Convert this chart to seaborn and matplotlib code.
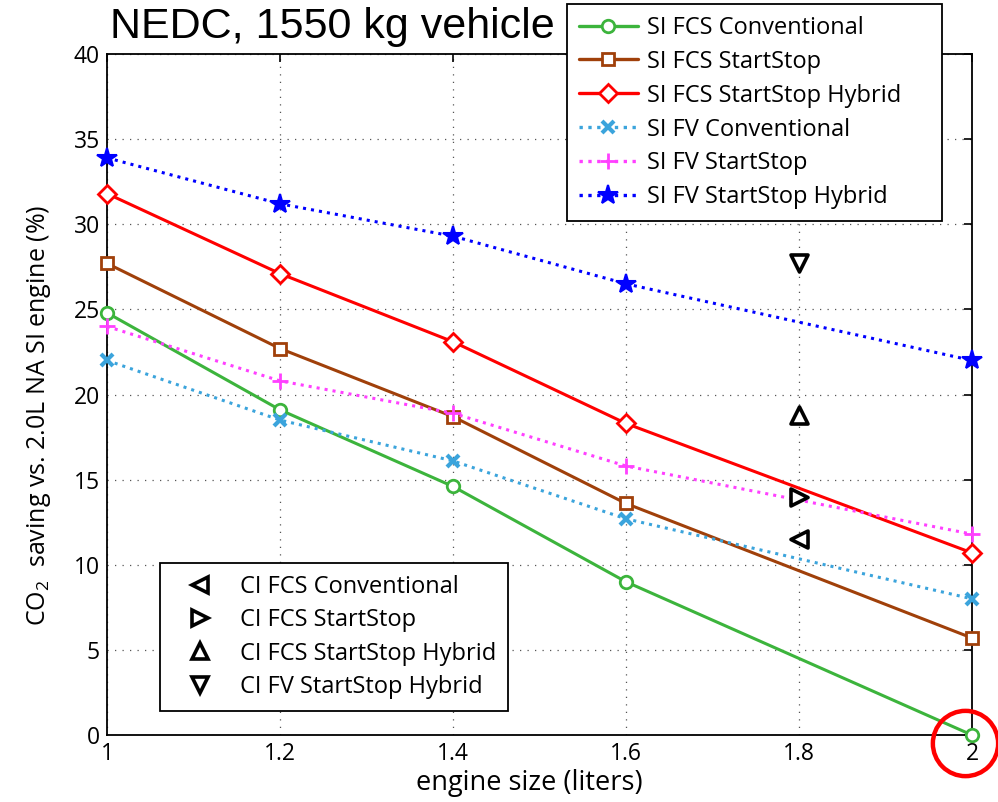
import numpy as np
import pandas as pd
import matplotlib
matplotlib.use("Agg")
import matplotlib.pyplot as plt
from matplotlib.lines import Line2D
import seaborn as sns

# engine sizes (liters)
engine_size = [1.0, 1.2, 1.4, 1.6, 2.0]

# CO2 saving (%) for the SI variants
si_fcs_conv = [24.8, 19.1, 14.6, 9.0, 0.0]
si_fcs_ss = [27.7, 22.7, 18.7, 13.6, 5.7]
si_fcs_ss_hyb = [31.8, 27.1, 23.1, 18.3, 10.7]
si_fv_conv = [22.0, 18.5, 16.1, 12.7, 8.0]
si_fv_ss = [24.0, 20.8, 18.9, 15.8, 11.8]
si_fv_ss_hyb = [33.9, 31.2, 29.3, 26.5, 22.0]

# CI variants, all at 1.8 L
ci_labels = ["CI FCS Conventional", "CI FCS StartStop",
             "CI FCS StartStop Hybrid", "CI FV StartStop Hybrid"]
ci_x = [1.8, 1.8, 1.8, 1.8]
ci_values = [11.5, 14.0, 18.8, 27.7]

x_ticks = [1, 1.2, 1.4, 1.6, 1.8, 2]
x_tick_labels = ["1", "1.2", "1.4", "1.6", "1.8", "2"]
y_ticks = [0, 5, 10, 15, 20, 25, 30, 35, 40]

sns.set_style("white")
plt.rcParams["font.family"] = ["Open Sans", "DejaVu Sans"]
plt.rcParams["mathtext.fontset"] = "custom"
plt.rcParams["mathtext.rm"] = "Open Sans"
plt.rcParams["text.color"] = "black"
plt.rcParams["axes.labelcolor"] = "black"

fig = plt.figure(figsize=(9.98, 8.02), dpi=100)
ax = fig.add_axes([0.1072, 0.0835, 0.8667, 0.8492])

series = [
    ("SI FCS Conventional", si_fcs_conv, "#3cb43c", "o", "-", 9, 2.0, "white"),
    ("SI FCS StartStop", si_fcs_ss, "#a0400a", "s", "-", 8, 2.0, "white"),
    ("SI FCS StartStop Hybrid", si_fcs_ss_hyb, "#ff0000", "D", "-", 9, 2.0, "white"),
    ("SI FV Conventional", si_fv_conv, "#3ba4dc", "x", ":", 9, 3.0, "#3ba4dc"),
    ("SI FV StartStop", si_fv_ss, "#ff40ff", "+", ":", 12, 2.0, "#ff40ff"),
    ("SI FV StartStop Hybrid", si_fv_ss_hyb, "#0000ff", "*", ":", 15, 1.5, "#0000ff"),
]

handles1 = []
for name, vals, col, mk, ls, ms, mew, mfc in series:
    df = pd.DataFrame({"x": engine_size, "y": vals})
    sns.lineplot(data=df, x="x", y="y", ax=ax, color=col, linewidth=2.2,
                 linestyle=ls, marker=mk, markersize=ms, markeredgewidth=mew,
                 markerfacecolor=mfc, markeredgecolor=col, legend=False,
                 zorder=3, clip_on=False)
    handles1.append(Line2D([], [], color=col, linewidth=2.4, linestyle=ls,
                           marker=mk, markersize=ms, markeredgewidth=mew,
                           markerfacecolor=mfc, markeredgecolor=col, label=name))

ci_markers = ["<", ">", "^", "v"]
handles2 = []
for lab, xv, yv, mk in zip(ci_labels, ci_x, ci_values, ci_markers):
    sns.scatterplot(x=[xv], y=[yv], ax=ax, marker=mk, s=150, color="white",
                    edgecolor="black", linewidth=2.6, zorder=4, legend=False)
    handles2.append(Line2D([], [], linestyle="none", marker=mk, markersize=11,
                           markerfacecolor="white", markeredgecolor="black",
                           markeredgewidth=2.6, label=lab))

ax.set_xlim(1, 2)
ax.set_ylim(0, 40)
ax.set_xticks(x_ticks)
ax.set_xticklabels(x_tick_labels)
ax.set_yticks(y_ticks)
ax.tick_params(axis="both", direction="in", length=6, width=1.2, labelsize=16.5,
               top=True, right=True, colors="black", labelcolor="black", pad=5)
for sp in ax.spines.values():
    sp.set_visible(True)
    sp.set_color("black")
    sp.set_linewidth(1.3)
ax.grid(True, color="#555555", linestyle=(0, (1, 5)), linewidth=0.9)
ax.set_axisbelow(True)

ax.set_xlabel("engine size (liters)", fontsize=19.5)
ax.xaxis.set_label_coords(0.488, -0.05)
ax.set_ylabel(r"CO$_{2}$  saving vs. 2.0L NA SI engine (%)", fontsize=18)
ax.yaxis.set_label_coords(-0.062, 0.47)

fig.text(0.110, 0.966, "NEDC, 1550 kg vehicle", fontsize=31,
         family="Liberation Sans", color="black", ha="left", va="center")

leg1 = ax.legend(handles=handles1, loc="upper left", mode="expand",
                 bbox_to_anchor=(567 / 998, 1 - 217 / 802, 375 / 998, 213 / 802),
                 bbox_transform=fig.transFigure, borderaxespad=0,
                 fontsize=17, frameon=True, fancybox=False, framealpha=1,
                 edgecolor="black", handlelength=2.5, handletextpad=0.4,
                 labelspacing=0.42, borderpad=0.5)
leg1.get_frame().set_linewidth(1.3)
leg1.set_zorder(10)
ax.add_artist(leg1)

leg2 = ax.legend(handles=handles2, loc="upper left", mode="expand",
                 bbox_to_anchor=(160 / 998, 1 - 703 / 802, 348 / 998, 140 / 802),
                 bbox_transform=fig.transFigure, borderaxespad=0,
                 fontsize=17, frameon=True, fancybox=False, framealpha=1,
                 edgecolor="black", handlelength=2.4, handletextpad=0.5,
                 labelspacing=0.4, borderpad=0.5)
leg2.get_frame().set_linewidth(1.3)

# highlight ring around the 2.0 L reference engine
ax.plot([1.992], [-0.45], marker="o", markersize=47, markerfacecolor="none",
        markeredgecolor="#ff0000", markeredgewidth=3.2, clip_on=False,
        linestyle="none", zorder=12)

fig.savefig("out.png", dpi=100)
